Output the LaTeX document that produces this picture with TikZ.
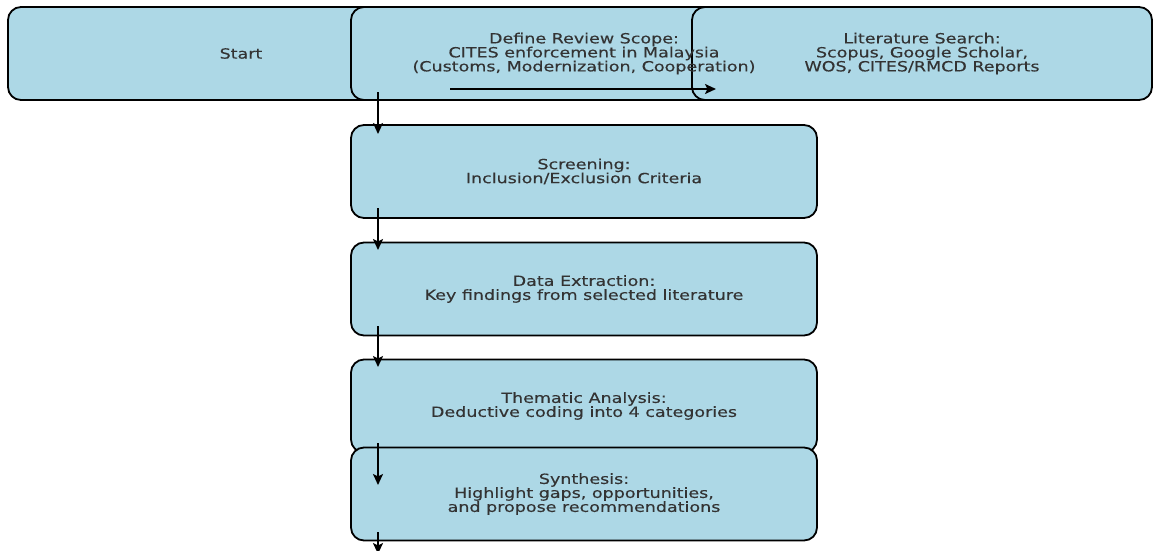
\documentclass[tikz,border=0pt]{standalone}
\usepackage{fontspec}
\newfontfamily\boxfont[FakeStretch=1.25,FakeBold=0.3]{DejaVu Sans}
\usetikzlibrary{arrows.meta}
\definecolor{lblue}{HTML}{ADD8E6}
\definecolor{txt}{HTML}{333333}
\begin{document}
\begin{tikzpicture}[x=1pt,y=1pt,
  box/.style={draw=black, line width=1.8pt, fill=lblue, rounded corners=13pt,
    minimum width=466pt, minimum height=93pt, inner sep=0pt},
  lbl/.style={align=center, text=txt, font=\boxfont\fontsize{14}{14}\selectfont},
  flow/.style={line width=2pt, -{Stealth[length=11pt,width=10pt,inset=2.5pt]}}]
\useasboundingbox (0,0) rectangle (1154,-550);
% boxes
\node[box] (start) at (241,-53.5) {};
\node[box] (scope) at (584,-53.5) {};
\node[box, minimum width=460pt] (search) at (922,-53.5) {};
\node[box] (screen) at (584,-171.5) {};
\node[box] (extract) at (584,-289) {};
\node[box] (theme) at (584,-406) {};
\node[box] (synth) at (584,-494) {};
% texts
\node[lbl] (tstart) at (start) {Start};
\node[lbl] (tscope) at (scope) {Define Review Scope:\\CITES enforcement in Malaysia\\(Customs, Modernization, Cooperation)};
\node[lbl] (tsearch) at (search) {Literature Search:\\Scopus, Google Scholar,\\WOS, CITES/RMCD Reports};
\node[lbl] (tscreen) at (screen) {Screening:\\Inclusion/Exclusion Criteria};
\node[lbl] (textract) at (extract) {Data Extraction:\\Key findings from selected literature};
\node[lbl] (ttheme) at (theme) {Thematic Analysis:\\Deductive coding into 4 categories};
\node[lbl] (tsynth) at (synth) {Synthesis:\\Highlight gaps, opportunities,\\and propose recommendations};
% arrow end points
\coordinate (h1) at (450,-89);
\coordinate (h2) at (716,-89);
\coordinate (v1a) at (378,-92);
\coordinate (v1b) at (378,-134);
\coordinate (v2a) at (378,-208);
\coordinate (v2b) at (378,-250);
\coordinate (v3a) at (378,-326);
\coordinate (v3b) at (378,-367);
\coordinate (v4a) at (378,-443);
\coordinate (v4b) at (378,-485);
\coordinate (v5a) at (378,-532);
\coordinate (v5b) at (378,-554);
% arrows
\draw[flow] (h1) -- (h2);
\draw[flow] (v1a) -- (v1b);
\draw[flow] (v2a) -- (v2b);
\draw[flow] (v3a) -- (v3b);
\draw[flow] (v4a) -- (v4b);
\draw[flow] (v5a) -- (v5b);
\end{tikzpicture}
\end{document}
